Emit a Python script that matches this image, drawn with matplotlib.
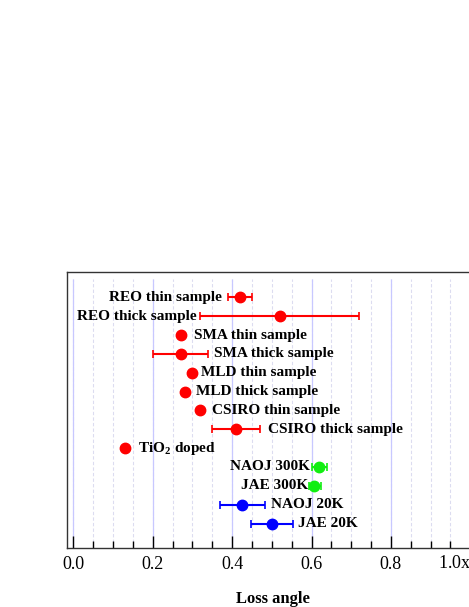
import matplotlib
matplotlib.use("Agg")
import matplotlib.pyplot as plt
import numpy as np

plt.rcParams['font.family'] = ['Liberation Serif', 'DejaVu Serif']
plt.rcParams['mathtext.fontset'] = 'custom'
plt.rcParams['mathtext.rm'] = 'Liberation Serif'
plt.rcParams['mathtext.bf'] = 'Liberation Serif:bold'

# samples, top to bottom
labels = ['REO thin sample', 'REO thick sample', 'SMA thin sample', 'SMA thick sample',
          'MLD thin sample', 'MLD thick sample', 'CSIRO thin sample', 'CSIRO thick sample',
          r'TiO$_\mathbf{2}$ doped', 'NAOJ 300K', 'JAE 300K', 'NAOJ 20K', 'JAE 20K']
loss = [0.42, 0.52, 0.27, 0.27, 0.30, 0.28, 0.32, 0.41, 0.13, 0.62, 0.606, 0.424, 0.50]
err_lo = [0.39, 0.32, np.nan, 0.20, np.nan, np.nan, np.nan, 0.35, np.nan, 0.60, 0.594, 0.369, 0.447]
err_hi = [0.45, 0.72, np.nan, 0.338, np.nan, np.nan, np.nan, 0.47, np.nan, 0.638, 0.623, 0.484, 0.554]
colors = ['#ff0000'] * 9 + ['#11ee11'] * 2 + ['#0000ff'] * 2

# label placement (layout only)
label_x = [0.375, 0.311, 0.305, 0.355, 0.3215, 0.309, 0.348, 0.491, 0.164, 0.596, 0.592, 0.498, 0.566]
label_ha = ['right', 'right', 'left', 'left', 'left', 'left', 'left', 'left', 'left',
            'right', 'right', 'left', 'left']

fig = plt.figure(figsize=(4.69, 6.07), dpi=100)
ax = fig.add_axes([0.1429, 0.0972, 0.876, 0.4547])

n = len(labels)
ypos = np.arange(n, 0, -1)
ax.set_xlim(-0.016, 1.019)
ax.set_ylim(-0.3, 14.35)

# vertical grid
major = np.arange(0, 1.01, 0.2)
minor = np.arange(0, 1.01, 0.05)
ax.vlines(minor, -0.3, 14.0, colors='#dcdcf0', linestyles=(0, (3, 2)), linewidth=0.8, zorder=0)
ax.vlines(major, -0.3, 14.0, colors='#c8c8ff', linewidth=0.9, zorder=0)

for i in range(n):
    lo, hi = err_lo[i], err_hi[i]
    if not np.isnan(lo):
        ax.errorbar(loss[i], ypos[i], xerr=[[loss[i] - lo], [hi - loss[i]]], fmt='none',
                    ecolor=colors[i], elinewidth=1.5, capsize=3, capthick=1.2, zorder=2)
    ax.plot(loss[i], ypos[i], 'o', color=colors[i], markersize=7.5, zorder=3)
    ax.text(label_x[i], ypos[i], labels[i], ha=label_ha[i], va='center',
            fontsize=11, fontweight='bold')

ax.set_xticks(major)
ax.set_xticklabels(['0.0', '0.2', '0.4', '0.6', '0.8', r'1.0x10$^{-3}$'], fontsize=13)
for lbl in ax.get_xticklabels():
    lbl.set_verticalalignment('baseline')
ax.set_xticks(minor, minor=True)
ax.tick_params(axis='x', which='major', direction='in', length=9, width=1, pad=15)
ax.tick_params(axis='x', which='minor', direction='in', length=5, width=1)
ax.set_yticks([])
for s in ax.spines.values():
    s.set_color('#333333')
    s.set_linewidth(1.0)
ax.set_xlabel('Loss angle', fontsize=12, fontweight='bold')
ax.xaxis.set_label_coords(0.5, -0.157)

fig.savefig('out.png', dpi=100)
